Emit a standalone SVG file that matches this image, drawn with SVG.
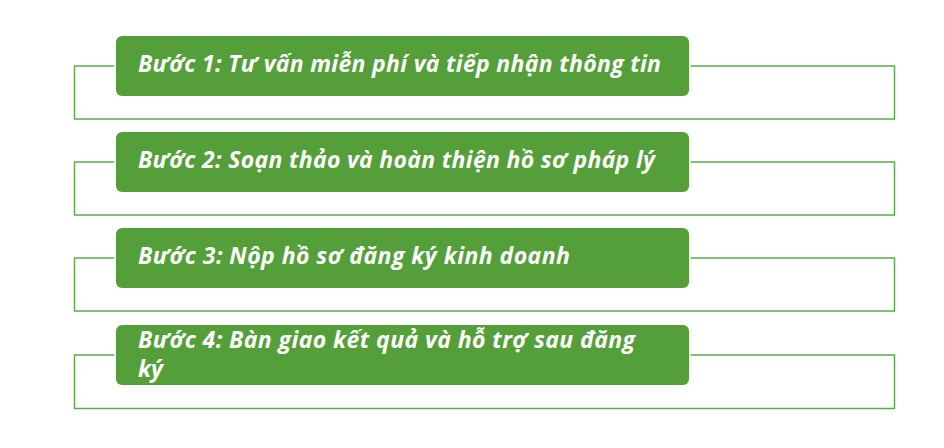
<svg xmlns="http://www.w3.org/2000/svg" width="944" height="448" viewBox="0 0 944 448">
<style>
.frame{fill:none;stroke:#5EA94A;stroke-width:1.5}
.gap{fill:#FFFFFF}
.box{fill:#549F3A}
.lbl{font-family:"Open Sans","Noto Sans","DejaVu Sans",sans-serif;font-weight:bold;font-style:italic;font-size:23px;fill:#FFFFFF}
</style>
<rect width="944" height="448" fill="#FFFFFF"/>
<g id="step1">
<rect class="frame" x="74.5" y="66" width="820" height="53"/>
<rect class="gap" x="114.3" y="34.3" width="576.4" height="63.4" rx="7"/>
<rect class="box" x="116" y="36" width="573" height="60" rx="6"/>
<text class="lbl" x="138" y="71.5" textLength="523">Bước 1: Tư vấn miễn phí và tiếp nhận thông tin</text>
</g>
<g id="step2">
<rect class="frame" x="74.5" y="162" width="820" height="53"/>
<rect class="gap" x="114.3" y="130.3" width="576.4" height="63.4" rx="7"/>
<rect class="box" x="116" y="132" width="573" height="60" rx="6"/>
<text class="lbl" x="138" y="167.5" textLength="517">Bước 2: Soạn thảo và hoàn thiện hồ sơ pháp lý</text>
</g>
<g id="step3">
<rect class="frame" x="74.5" y="258" width="820" height="53"/>
<rect class="gap" x="114.3" y="226.3" width="576.4" height="63.4" rx="7"/>
<rect class="box" x="116" y="228" width="573" height="60" rx="6"/>
<text class="lbl" x="138" y="263.5" textLength="432">Bước 3: Nộp hồ sơ đăng ký kinh doanh</text>
</g>
<g id="step4">
<rect class="frame" x="74.5" y="355" width="820" height="53.5"/>
<rect class="gap" x="114.3" y="323.3" width="576.4" height="63.4" rx="7"/>
<rect class="box" x="116" y="325" width="573" height="60" rx="6"/>
<text class="lbl" x="138" y="348" textLength="497">Bước 4: Bàn giao kết quả và hỗ trợ sau đăng</text>
<text class="lbl" x="138" y="377">ký</text>
</g>
</svg>
